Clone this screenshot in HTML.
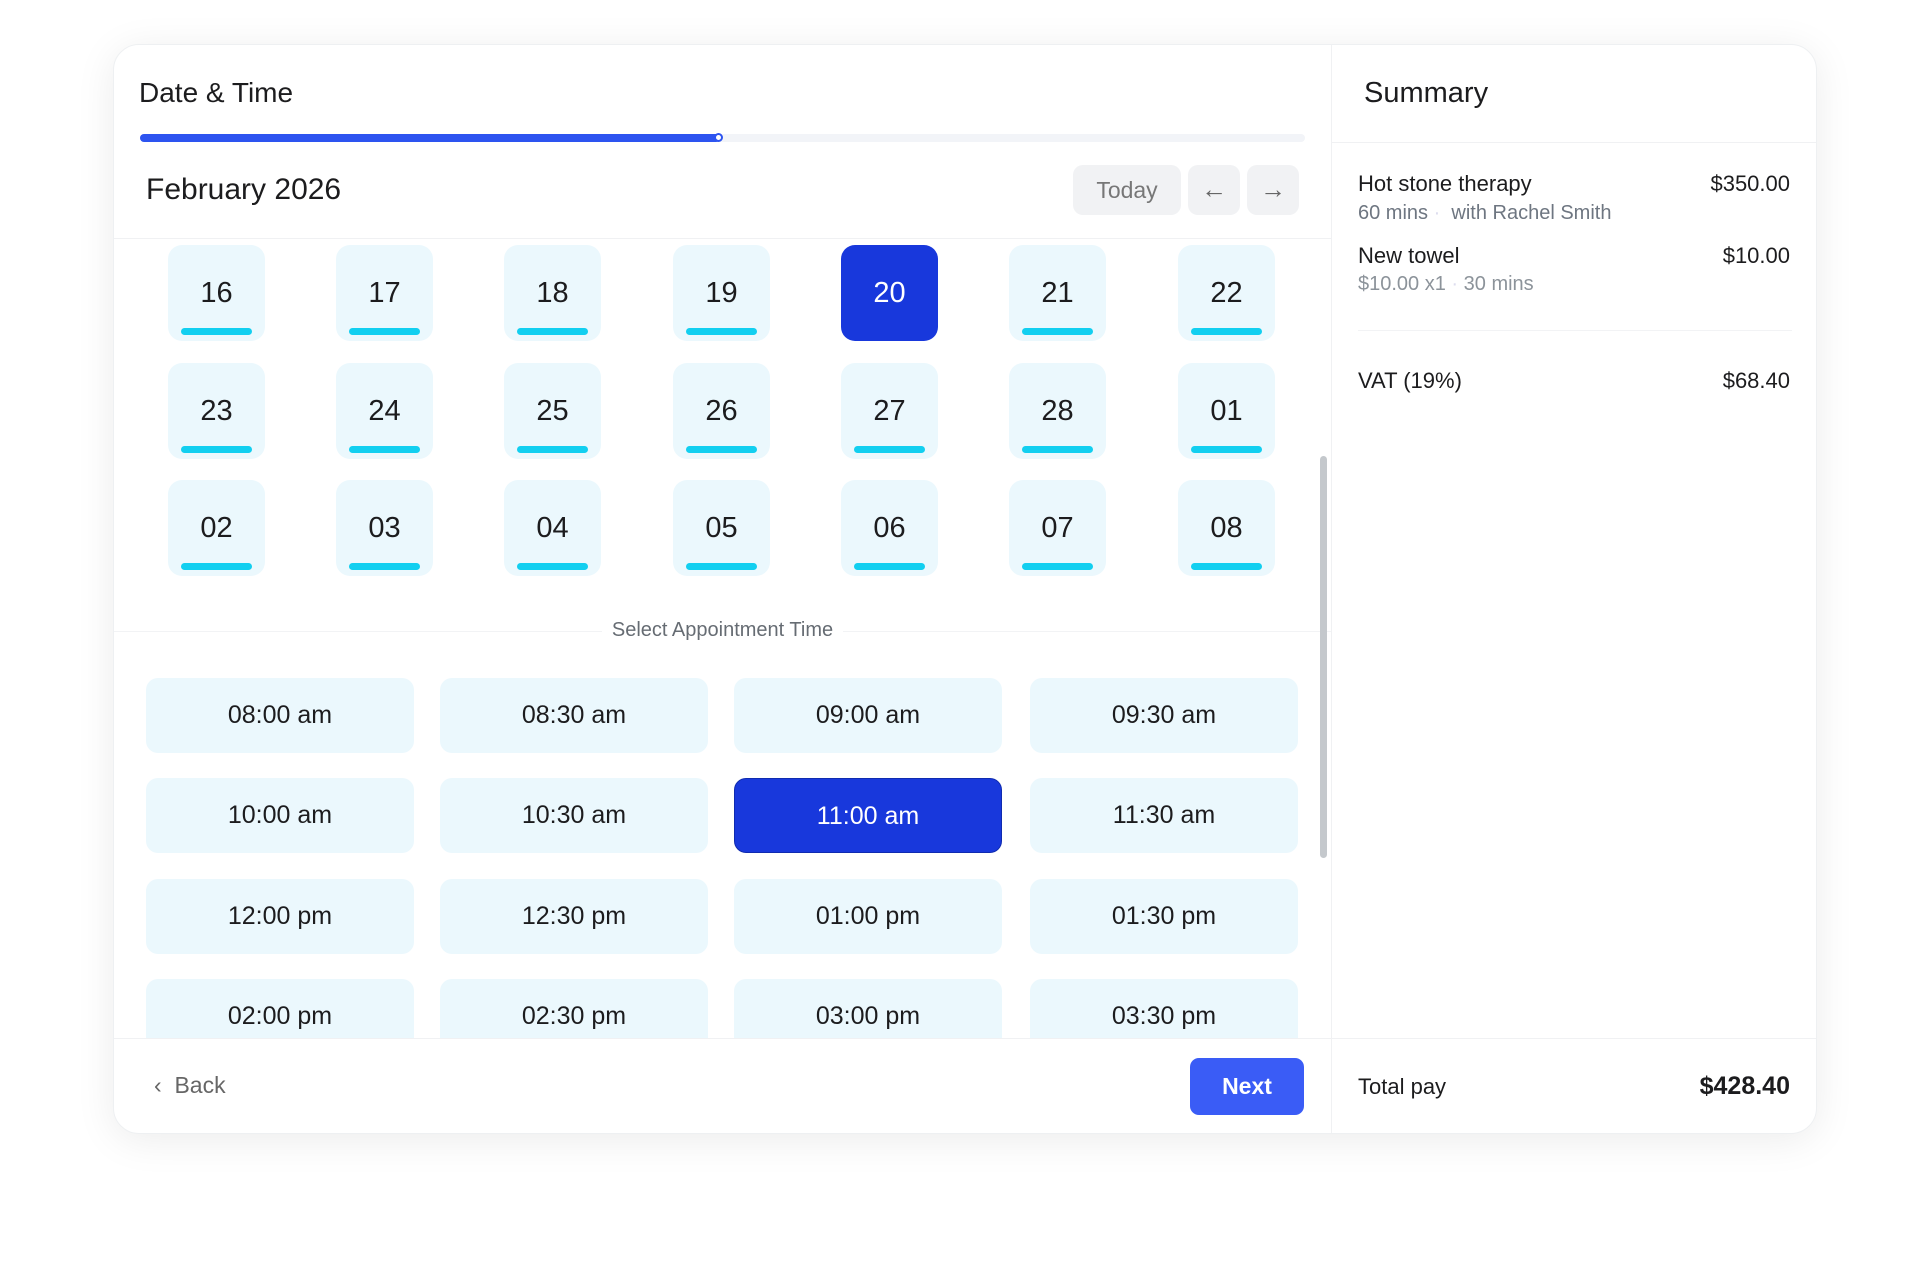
<!DOCTYPE html>
<html><head><style>
*{box-sizing:border-box;margin:0;padding:0}
body{width:1920px;height:1265px;background:#fff;font-family:"Liberation Sans",Arial,sans-serif;position:relative;overflow:hidden;color:#1c1c1e}
.card{position:absolute;left:113px;top:44px;width:1704px;height:1090px;border-radius:26px;background:#fff;box-shadow:0 6px 40px rgba(0,0,0,0.08);border:1px solid #eef0f2;overflow:hidden}
.a{position:absolute}
.tile{position:absolute;width:97px;height:96px;border-radius:14px;background:#ebf8fd;font-size:29px;font-weight:500;text-align:center;line-height:96px}
.tile span{position:absolute;left:0;right:0;top:0px}
.tile i{position:absolute;left:13px;width:71px;height:7px;border-radius:4px;background:#12cff0;top:83px}
.tile.sel{background:#1838dc;color:#fff}
.tile.sel i{display:none}
.tm{position:absolute;width:268px;height:75px;border-radius:12px;background:#ebf8fd;font-size:25px;font-weight:500;text-align:center;line-height:75px}
.tm.sel{background:#1838dc;color:#fff;border:1px solid #0f2bb0}
.r{position:absolute;font-size:22px}
.g{color:#6e7681;font-size:20px}
</style></head><body>
<div class="card">
<div class="a" style="left:25px;top:32px;font-size:28px;font-weight:500">Date &amp; Time</div>
<div class="a" style="left:26px;top:89px;width:1165px;height:8px;border-radius:4px;background:#f2f4f8"></div>
<div class="a" style="left:26px;top:89px;width:580px;height:8px;border-radius:4px;background:#2d54f0"></div>
<div class="a" style="left:600px;top:88px;width:9px;height:9px;border-radius:50%;background:#fff;border:2px solid #2d54f0"></div>
<div class="a" style="left:32px;top:128px;font-size:30px;font-weight:500">February 2026</div>
<div class="a" style="left:959px;top:120px;width:108px;height:50px;border-radius:10px;background:#f1f2f4;color:#777;font-size:23px;text-align:center;line-height:50px">Today</div>
<div class="a" style="left:1074px;top:120px;width:52px;height:50px;border-radius:10px;background:#f1f2f4;color:#666;font-size:26px;text-align:center;line-height:48px">←</div>
<div class="a" style="left:1133px;top:120px;width:52px;height:50px;border-radius:10px;background:#f1f2f4;color:#666;font-size:26px;text-align:center;line-height:48px">→</div>
<div class="a" style="left:0;top:193px;width:1217px;height:1px;background:#f0f1f3"></div>

<div class="a" style="left:0;top:195px;width:1217px;height:798px;overflow:hidden">
<div class="a" style="left:0;top:-195px;width:1217px;height:1200px">
<div class="tile" style="left:54px;top:200px"><span>16</span><i></i></div>
<div class="tile" style="left:222px;top:200px"><span>17</span><i></i></div>
<div class="tile" style="left:390px;top:200px"><span>18</span><i></i></div>
<div class="tile" style="left:559px;top:200px"><span>19</span><i></i></div>
<div class="tile sel" style="left:727px;top:200px"><span>20</span><i></i></div>
<div class="tile" style="left:895px;top:200px"><span>21</span><i></i></div>
<div class="tile" style="left:1064px;top:200px"><span>22</span><i></i></div>
<div class="tile" style="left:54px;top:318px"><span>23</span><i></i></div>
<div class="tile" style="left:222px;top:318px"><span>24</span><i></i></div>
<div class="tile" style="left:390px;top:318px"><span>25</span><i></i></div>
<div class="tile" style="left:559px;top:318px"><span>26</span><i></i></div>
<div class="tile" style="left:727px;top:318px"><span>27</span><i></i></div>
<div class="tile" style="left:895px;top:318px"><span>28</span><i></i></div>
<div class="tile" style="left:1064px;top:318px"><span>01</span><i></i></div>
<div class="tile" style="left:54px;top:435px"><span>02</span><i></i></div>
<div class="tile" style="left:222px;top:435px"><span>03</span><i></i></div>
<div class="tile" style="left:390px;top:435px"><span>04</span><i></i></div>
<div class="tile" style="left:559px;top:435px"><span>05</span><i></i></div>
<div class="tile" style="left:727px;top:435px"><span>06</span><i></i></div>
<div class="tile" style="left:895px;top:435px"><span>07</span><i></i></div>
<div class="tile" style="left:1064px;top:435px"><span>08</span><i></i></div>

<div class="a" style="left:0;top:586px;width:1217px;height:1px;background:#f2f3f5"></div>
<div class="a" style="left:0;top:574px;width:1217px;text-align:center"><span style="background:#fff;padding:0 10px;color:#666c73;font-size:20px">Select Appointment Time</span></div>

<div class="tm" style="left:32px;top:633px">08:00 am</div>
<div class="tm" style="left:326px;top:633px">08:30 am</div>
<div class="tm" style="left:620px;top:633px">09:00 am</div>
<div class="tm" style="left:916px;top:633px">09:30 am</div>
<div class="tm" style="left:32px;top:733px">10:00 am</div>
<div class="tm" style="left:326px;top:733px">10:30 am</div>
<div class="tm sel" style="left:620px;top:733px">11:00 am</div>
<div class="tm" style="left:916px;top:733px">11:30 am</div>
<div class="tm" style="left:32px;top:834px">12:00 pm</div>
<div class="tm" style="left:326px;top:834px">12:30 pm</div>
<div class="tm" style="left:620px;top:834px">01:00 pm</div>
<div class="tm" style="left:916px;top:834px">01:30 pm</div>
<div class="tm" style="left:32px;top:934px">02:00 pm</div>
<div class="tm" style="left:326px;top:934px">02:30 pm</div>
<div class="tm" style="left:620px;top:934px">03:00 pm</div>
<div class="tm" style="left:916px;top:934px">03:30 pm</div>
</div></div>

<div class="a" style="left:1206px;top:411px;width:7px;height:402px;border-radius:4px;background:#c4c8cc"></div>
<div class="a" style="left:0;top:993px;width:1704px;height:1px;background:#f0f1f3"></div>
<div class="a" style="left:1217px;top:0;width:1px;height:1090px;background:#f0f1f3"></div>
<div class="a" style="left:40px;top:1027px;font-size:23px;color:#666">‹&nbsp;&nbsp;Back</div>
<div class="a" style="left:1076px;top:1013px;width:114px;height:57px;border-radius:9px;background:#3a5cf6;color:#fff;font-size:23px;font-weight:700;text-align:center;line-height:57px">Next</div>

<div class="a" style="left:1250px;top:32px;font-size:29px;font-weight:500">Summary</div>
<div class="a" style="left:1217px;top:97px;width:487px;height:1px;background:#f0f1f3"></div>
<div class="r" style="left:1244px;top:126px">Hot stone therapy</div>
<div class="r" style="right:26px;top:126px">$350.00</div>
<div class="r g" style="left:1244px;top:157px">60 mins <span style="color:#dde">·</span>&nbsp; with Rachel Smith</div>
<div class="r" style="left:1244px;top:198px">New towel</div>
<div class="r" style="right:26px;top:198px">$10.00</div>
<div class="r g" style="left:1244px;top:228px;color:#8c939a">$10.00 x1 <span style="color:#dde">·</span> 30 mins</div>
<div class="a" style="left:1244px;top:285px;width:434px;height:1px;background:#f2f3f5"></div>
<div class="r" style="left:1244px;top:323px">VAT (19%)</div>
<div class="r" style="right:26px;top:323px">$68.40</div>
<div class="r" style="left:1244px;top:1029px">Total pay</div>
<div class="r" style="right:26px;top:1027px;font-size:25px;font-weight:700">$428.40</div>
</div>
</body></html>
